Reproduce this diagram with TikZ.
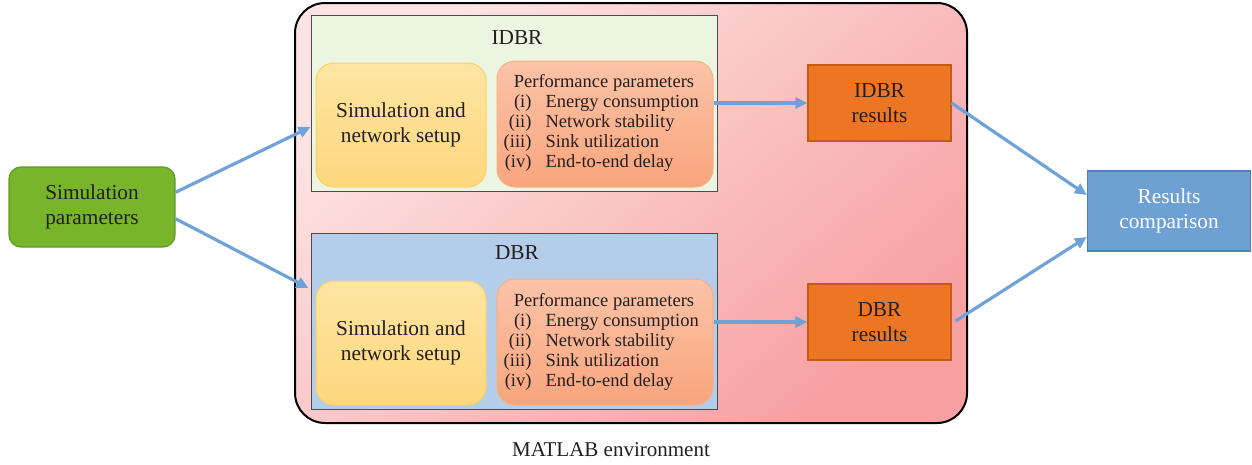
\documentclass[tikz,border=0pt]{standalone}
\usepackage{fontspec}
\setmainfont{Liberation Serif}
\usetikzlibrary{arrows.meta,calc}
\definecolor{txt}{HTML}{231F20}
\definecolor{outerLight}{HTML}{FDE4E4}
\definecolor{outerDark}{HTML}{F7A0A2}
\definecolor{idbrFill}{HTML}{EBF5E1}
\definecolor{dbrFill}{HTML}{B4CDEA}
\definecolor{yelTop}{HTML}{FEE5A2}
\definecolor{yelBot}{HTML}{FDD77E}
\definecolor{yelBorder}{HTML}{F9D35F}
\definecolor{perfTop}{HTML}{FBC3A8}
\definecolor{perfBot}{HTML}{F9A57C}
\definecolor{perfBorder}{HTML}{F4B183}
\definecolor{orangeFill}{HTML}{ED7625}
\definecolor{orangeBorder}{HTML}{C55A11}
\definecolor{greenFill}{HTML}{78B52A}
\definecolor{greenBorder}{HTML}{5E9A22}
\definecolor{blueFill}{HTML}{6FA0D3}
\definecolor{blueBorder}{HTML}{4F7FB8}
\definecolor{arrowCol}{HTML}{6FA2D8}
\tikzset{
  bigtext/.style={font=\fontsize{21.3}{25.5}\selectfont, text=txt, align=center},
  smalltext/.style={font=\fontsize{18.5}{20.5}\selectfont, text=txt},
  groupbox/.style={draw=black!70, line width=1pt, inner sep=0pt},
  setupbox/.style={draw=yelBorder, line width=1pt, rounded corners=18pt, top color=yelTop, bottom color=yelBot, inner sep=0pt, minimum width=170pt, minimum height=124pt, bigtext},
  perfbox/.style={draw=perfBorder, line width=1pt, rounded corners=18pt, top color=perfTop, bottom color=perfBot, inner sep=0pt, minimum width=216pt, minimum height=126pt},
  resbox/.style={draw=orangeBorder, line width=1.2pt, fill=orangeFill, inner sep=0pt, minimum width=143pt, minimum height=76pt, bigtext},
  flow/.style={draw=arrowCol, line width=3.2pt, -{Triangle[length=12pt,width=11pt]}},
}
\begin{document}
\begin{tikzpicture}[x=1pt,y=1pt]
\useasboundingbox (0,0) rectangle (1252,-464);
% outer MATLAB box
\node[draw=black, line width=2pt, rounded corners=30pt, top color=outerLight, bottom color=outerDark, shading angle=40, inner sep=0pt, minimum width=672pt, minimum height=420pt] (matlab) at (631,-213) {};
\node[font=\fontsize{21}{24}\selectfont, text=txt] (matlablbl) at (611,-450) {MATLAB environment};
% IDBR group
\node[groupbox, fill=idbrFill, minimum width=406pt, minimum height=176pt] (idbr) at (514,-103) {};
\node[bigtext] (idbrlbl) at (517,-38) {IDBR};
\node[setupbox] (setup1) at (401,-125) {Simulation and\\network setup};
\node[perfbox] (perf1) at (605,-124) {};
% DBR group
\node[groupbox, fill=dbrFill, minimum width=406pt, minimum height=176pt] (dbr) at (514,-321) {};
\node[bigtext] (dbrlbl) at (517,-253) {DBR};
\node[setupbox] (setup2) at (401,-343) {Simulation and\\network setup};
\node[perfbox] (perf2) at (605,-342) {};
% performance texts
\foreach \p/\y in {a/-81, b/-300} {
  \node[smalltext, anchor=base] (ptitle\p) at (604,\y-6) {Performance parameters};
}
\foreach \p/\y in {a/-101, b/-320} {
  \node[smalltext, anchor=base east] (pi\p) at (535,\y-6) {(i)};
  \node[smalltext, anchor=base west] (ti\p) at (542,\y-6) {Energy consumption};
  \node[smalltext, anchor=base east] (pii\p) at (535,\y-26) {(ii)};
  \node[smalltext, anchor=base west] (tii\p) at (542,\y-26) {Network stability};
  \node[smalltext, anchor=base east] (piii\p) at (535,\y-46) {(iii)};
  \node[smalltext, anchor=base west] (tiii\p) at (542,\y-46) {Sink utilization};
  \node[smalltext, anchor=base east] (piv\p) at (535,\y-66) {(iv)};
  \node[smalltext, anchor=base west] (tiv\p) at (542,\y-66) {End-to-end delay};
}
% results
\node[resbox] (res1) at (879.5,-103) {IDBR\\results};
\node[resbox] (res2) at (879.5,-322) {DBR\\results};
\node[draw=blueBorder, line width=1.2pt, fill=blueFill, inner sep=0pt, minimum width=163pt, minimum height=80pt, font=\fontsize{21.3}{25.5}\selectfont, text=white, align=center] (comp) at (1169,-211) {Results\\comparison};
% simulation parameters
\node[draw=greenBorder, line width=1.2pt, fill=greenFill, rounded corners=12pt, inner sep=0pt, minimum width=166pt, minimum height=80pt, bigtext] (simp) at (92,-207) {Simulation\\parameters};
% connectors
\draw[flow] (simp.10) -- ($(idbr.west)+(0,-24)$);
\draw[flow] (simp.-8) -- ($(dbr.west)+(-2,33)$);
\draw[flow] (perf1.east |- res1.west) -- (res1.west);
\draw[flow] (perf2.east |- res2.west) -- (res2.west);
\draw[flow] (res1.east) -- ($(comp.west)+(0,16)$);
\draw[flow] ($(res2.east)+(4,1)$) -- ($(comp.west)+(0,-26)$);
\end{tikzpicture}
\end{document}
